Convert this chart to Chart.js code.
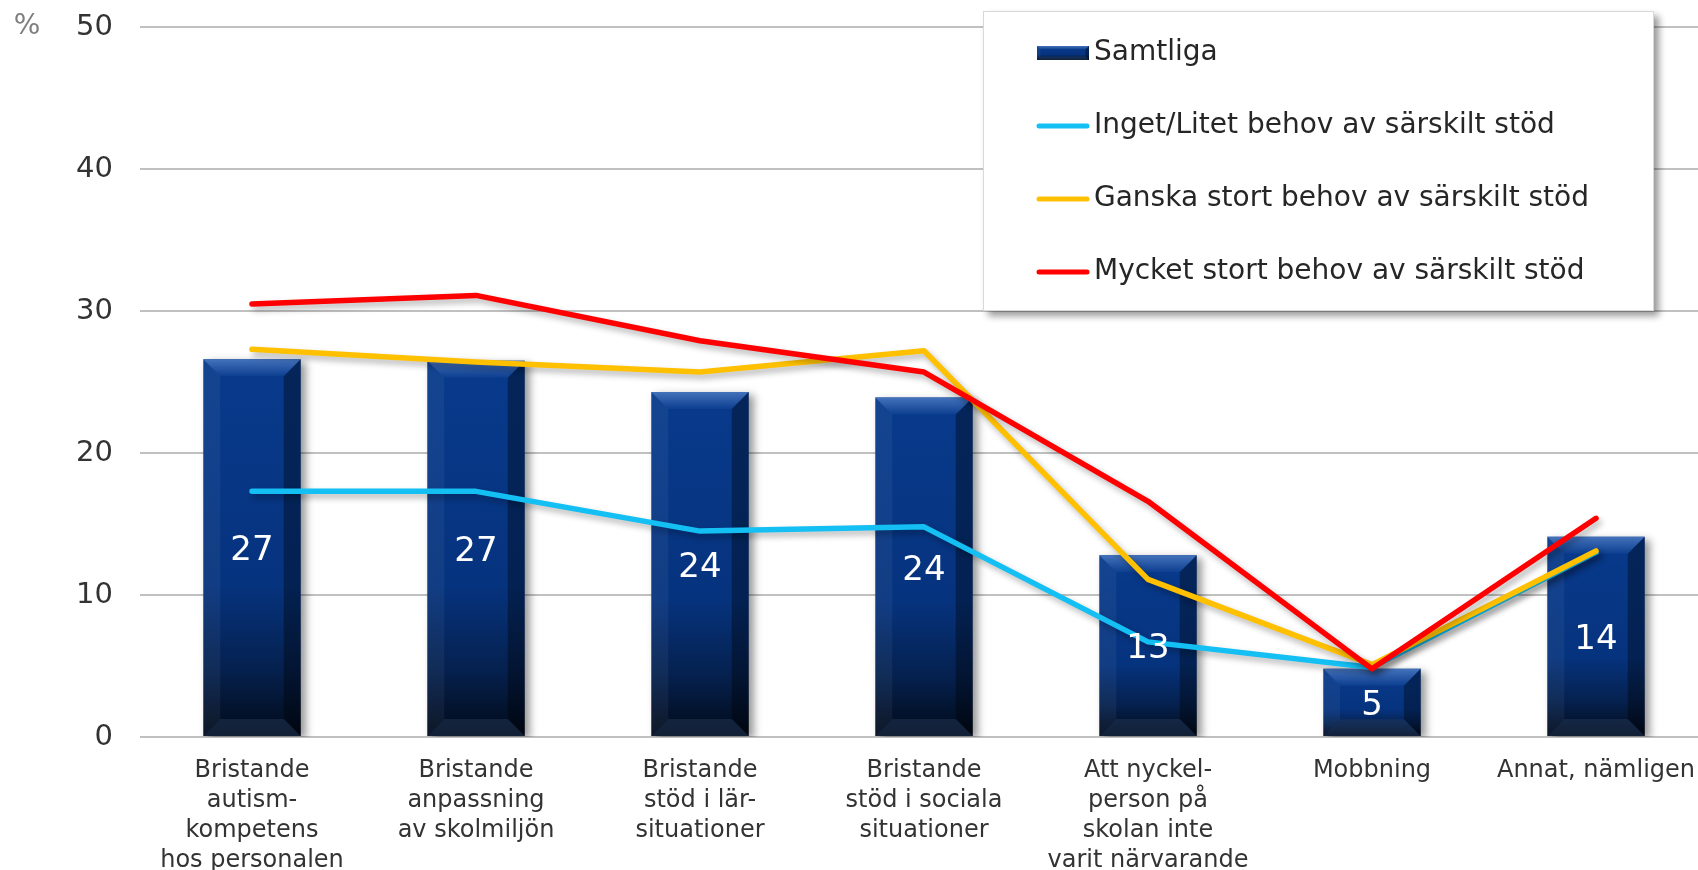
<!DOCTYPE html>
<html>
<head>
<meta charset="utf-8">
<script src="https://cdn.jsdelivr.net/npm/chart.js@4"></script>
<style>
  html, body { margin: 0; padding: 0; background: #fff; overflow: hidden; }
  #wrap { width: 1698px; height: 870px; overflow: hidden; }
</style>
</head>
<body>
<div id="wrap"><canvas id="chart" width="1708" height="870"></canvas></div>
<script>
// values (percent)
const categories = [
    ['Bristande', 'autism-', 'kompetens', 'hos personalen'],
    ['Bristande', 'anpassning', 'av skolmiljön'],
    ['Bristande', 'stöd i lär-', 'situationer'],
    ['Bristande', 'stöd i sociala', 'situationer'],
    ['Att nyckel-', 'person på', 'skolan inte', 'varit närvarande'],
    'Mobbning',
    'Annat, nämligen'
];
const samtliga = [26.6, 26.5, 24.3, 23.9, 12.8, 4.8, 14.1];
const inget = [17.3, 17.3, 14.5, 14.8, 6.7, 4.9, 13.0];
const ganska = [27.3, 26.4, 25.7, 27.2, 11.1, 5.1, 13.1];
const mycket = [30.5, 31.1, 27.9, 25.7, 16.6, 4.8, 15.4];
const yMin = 0, yMax = 50, yStep = 10;

const FONT = "'DejaVu Sans', Verdana, sans-serif";

function barGradient(ctx, top, bottom) {
    const g = ctx.createLinearGradient(0, top, 0, bottom);
    g.addColorStop(0, '#083a8c');
    g.addColorStop(0.6, '#06337e');
    g.addColorStop(0.82, '#05214f');
    g.addColorStop(1, '#020a18');
    return g;
}

// bevel on each bar, like the office style
function drawBevel(ctx, left, right, top, bottom) {
    const b = Math.min(17, (bottom - top) / 4);
    ctx.save();
    // top edge, light
    let g = ctx.createLinearGradient(0, top, 0, top + b);
    g.addColorStop(0, '#4472bb');
    g.addColorStop(1, '#0d3f90');
    ctx.fillStyle = g;
    ctx.beginPath();
    ctx.moveTo(left, top); ctx.lineTo(right, top);
    ctx.lineTo(right - b, top + b); ctx.lineTo(left + b, top + b);
    ctx.closePath(); ctx.fill();
    // right edge, dark
    ctx.fillStyle = 'rgba(0,0,0,0.35)';
    ctx.beginPath();
    ctx.moveTo(right, top); ctx.lineTo(right, bottom);
    ctx.lineTo(right - b, bottom - b); ctx.lineTo(right - b, top + b);
    ctx.closePath(); ctx.fill();
    // left edge, slight light
    ctx.fillStyle = 'rgba(255,255,255,0.05)';
    ctx.beginPath();
    ctx.moveTo(left, top); ctx.lineTo(left + b, top + b);
    ctx.lineTo(left + b, bottom - b); ctx.lineTo(left, bottom);
    ctx.closePath(); ctx.fill();
    // bottom edge
    ctx.fillStyle = 'rgba(40,60,90,0.45)';
    ctx.beginPath();
    ctx.moveTo(left, bottom); ctx.lineTo(right, bottom);
    ctx.lineTo(right - b, bottom - b); ctx.lineTo(left + b, bottom - b);
    ctx.closePath(); ctx.fill();
    ctx.restore();
}

const shadowPlugin = {
    id: 'shadows',
    beforeDatasetDraw(chart, args) {
        const ctx = chart.ctx;
        ctx.save();
        if (args.meta.type === 'bar') {
            ctx.shadowColor = 'rgba(0,0,0,0.4)';
            ctx.shadowBlur = 8;
            ctx.shadowOffsetX = 5;
            ctx.shadowOffsetY = 3;
        } else {
            ctx.shadowColor = 'rgba(0,0,0,0.3)';
            ctx.shadowBlur = 6;
            ctx.shadowOffsetX = 3;
            ctx.shadowOffsetY = 4;
        }
    },
    afterDatasetDraw(chart, args) {
        const ctx = chart.ctx;
        ctx.restore();
        if (args.meta.type === 'bar') {
            args.meta.data.forEach(el => {
                const p = el.getProps(['x', 'y', 'base', 'width'], true);
                drawBevel(ctx, p.x - p.width / 2, p.x + p.width / 2, p.y, p.base);
            });
        }
    }
};

const labelPlugin = {
    id: 'barLabels',
    afterDatasetsDraw(chart) {
        const ctx = chart.ctx;
        const meta = chart.getDatasetMeta(0);
        ctx.save();
        ctx.fillStyle = '#ffffff';
        ctx.font = '34px ' + FONT;
        ctx.textAlign = 'center';
        ctx.textBaseline = 'middle';
        meta.data.forEach((el, i) => {
            const p = el.getProps(['x', 'y', 'base'], true);
            ctx.fillText(Math.round(chart.data.datasets[0].data[i]), p.x, (p.y + p.base) / 2 + 4);
        });
        // unit
        ctx.fillStyle = '#7f7f7f';
        ctx.font = '28px ' + FONT;
        ctx.fillText('%', 27, chart.scales.y.getPixelForValue(yMax));
        ctx.restore();
    }
};

const legendPlugin = {
    id: 'boxLegend',
    afterDraw(chart) {
        const ctx = chart.ctx;
        const bx = 983, by = 11, bw = 671, bh = 300;
        ctx.save();
        ctx.shadowColor = 'rgba(0,0,0,0.4)';
        ctx.shadowBlur = 7;
        ctx.shadowOffsetX = 5;
        ctx.shadowOffsetY = 5;
        ctx.fillStyle = '#ffffff';
        ctx.fillRect(bx, by, bw, bh);
        ctx.restore();
        ctx.save();
        ctx.strokeStyle = '#d9d9d9';
        ctx.lineWidth = 1;
        ctx.strokeRect(bx + 0.5, by + 0.5, bw - 1, bh - 1);
        ctx.font = '28px ' + FONT;
        ctx.textBaseline = 'middle';
        chart.data.datasets.forEach((ds, i) => {
            const cy = 53 + 73 * i;
            if (ds.type === 'bar') {
                ctx.fillStyle = barGradient(ctx, cy - 7, cy + 7);
                ctx.fillRect(1037, cy - 7, 52, 14);
                drawBevel(ctx, 1037, 1089, cy - 7, cy + 7);
            } else {
                ctx.strokeStyle = ds.borderColor;
                ctx.lineWidth = 5;
                ctx.lineCap = 'round';
                ctx.beginPath();
                ctx.moveTo(1039, cy);
                ctx.lineTo(1087, cy);
                ctx.stroke();
            }
            ctx.fillStyle = '#262626';
            ctx.fillText(ds.label, 1094, cy);
        });
        ctx.restore();
    }
};

function lineSet(label, data, color, order) {
    return {
        type: 'line',
        label: label,
        data: data,
        borderColor: color,
        backgroundColor: color,
        borderWidth: 5.5,
        borderCapStyle: 'round',
        borderJoinStyle: 'round',
        tension: 0,
        pointRadius: 0,
        fill: false,
        order: order
    };
}

new Chart(document.getElementById('chart'), {
    data: {
        labels: categories,
        datasets: [
            {
                type: 'bar',
                label: 'Samtliga',
                data: samtliga,
                backgroundColor: (c) => {
                    const y = c.chart.scales.y;
                    if (!y || typeof c.raw !== 'number') return '#06337e';
                    const top = y.getPixelForValue(c.raw);
                    const base = y.getPixelForValue(0);
                    if (!isFinite(top) || !isFinite(base) || top === base) return '#06337e';
                    return barGradient(c.chart.ctx, top, base);
                },
                borderWidth: 0,
                barPercentage: 0.435,
                categoryPercentage: 1,
                order: 10
            },
            lineSet('Inget/Litet behov av särskilt stöd', inget, '#14bff3', 3),
            lineSet('Ganska stort behov av särskilt stöd', ganska, '#ffc000', 2),
            lineSet('Mycket stort behov av särskilt stöd', mycket, '#ff0000', 1)
        ]
    },
    options: {
        responsive: false,
        animation: false,
        layout: { padding: { top: 0, right: 0, bottom: 0, left: 0 } },
        plugins: {
            legend: { display: false },
            tooltip: { enabled: false }
        },
        scales: {
            x: {
                offset: true,
                grid: { display: false },
                border: { display: false },
                ticks: {
                    color: '#333333',
                    font: { family: FONT, size: 24, lineHeight: 1.25 },
                    padding: 11,
                    maxRotation: 0,
                    autoSkip: false
                },
                afterFit(scale) { scale.height = 133; }
            },
            y: {
                min: yMin,
                max: yMax,
                grid: { color: '#c0c0c0', lineWidth: 2, drawTicks: false },
                border: { display: false },
                ticks: {
                    stepSize: yStep,
                    color: '#333333',
                    // zero line height keeps the top padding down to the tick padding
                    font: { family: FONT, size: 29, lineHeight: 0 },
                    padding: 27
                },
                afterFit(scale) { scale.width = 140; }
            }
        }
    },
    plugins: [shadowPlugin, labelPlugin, legendPlugin]
});
</script>
</body>
</html>
